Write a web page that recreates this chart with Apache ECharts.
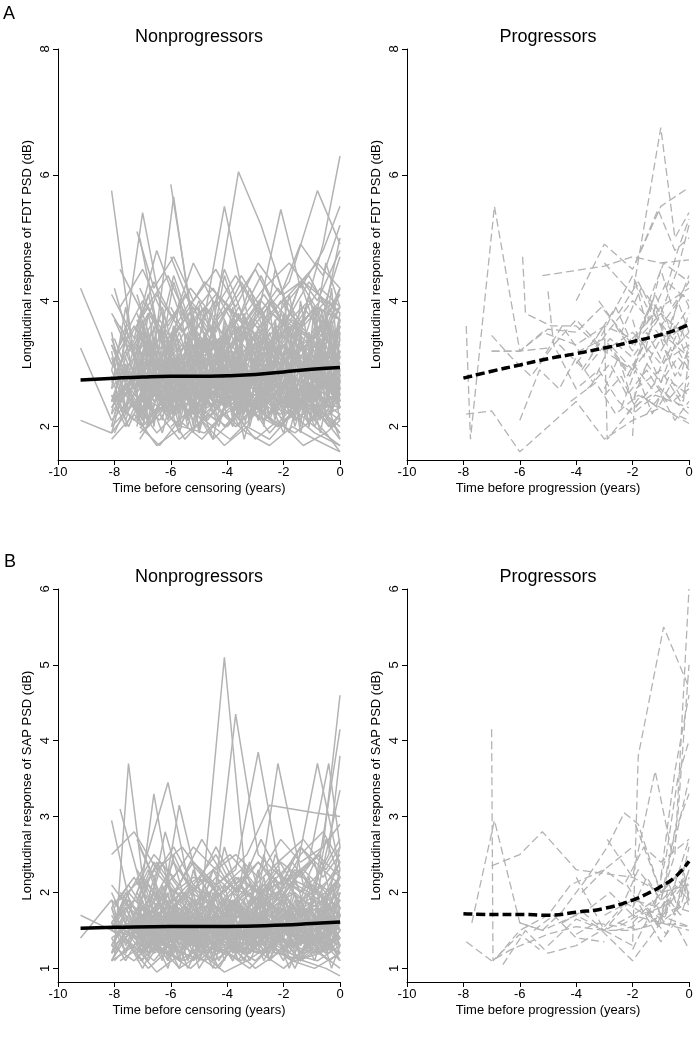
<!DOCTYPE html>
<html><head><meta charset="utf-8">
<script src="https://cdn.jsdelivr.net/npm/echarts@6/dist/echarts.min.js"></script>
<style>html,body{margin:0;padding:0;background:#fff}#c{width:699px;height:1048px}</style>
</head><body><div id="c"></div>
<script>
// ---- visit schedules (years before censoring) ----
const visitGrids = [
  [-9.2,-8.1,-7.1,-6.0,-5.1,-4.0,-3.0,-2.0,-1.0,0],
  [-8.1,-7.3,-6.5,-5.6,-4.8,-3.9,-3.0,-2.2,-1.3,-0.5,0],
  [-7.1,-6.4,-5.7,-4.9,-4.1,-3.3,-2.5,-1.7,-0.9,0],
  [-6.0,-5.2,-4.5,-3.6,-2.8,-2.0,-1.1,-0.4,0],
  [-7.8,-7.0,-6.1,-5.3,-4.4,-3.5,-2.7,-1.8,-0.8,0],
  [-8.0,-7.5,-6.8,-6.2,-5.5,-4.7,-4.0,-3.2,-2.4,-1.6,-0.7,0],
  [-7.2,-6.6,-5.9,-5.2,-4.4,-3.7,-2.9,-2.1,-1.4,-0.6,0],
  [-7.2,-6.8,-6.3,-5.9,-5.4,-5.0,-4.5,-4.1,-3.6,-3.2,-2.7,-2.3,-1.8,-1.4,-0.9,-0.5,0],
  [-8.1,-7.6,-7.0,-6.6,-6.1,-5.7,-5.2,-4.8,-4.3,-3.8,-3.4,-2.9,-2.5,-2.0,-1.6,-1.1,-0.7,-0.3,0]
];
// ---- FDT PSD, nonprogressors: [schedule, values...] (values end at time 0) ----
const fdtNonprog = [
  [0,3.25,2.1,2.6,2.4,2.9,2.5,2.7,2.3,2.8,2.6],
  [0,4.2,3.0,2.4,2.9,2.6,3.1,2.8,3.3,2.9,3.2],
  [0,2.1,1.9,2.5,2.2,2.7,2.4,2.2,2.6,2.3,2.5],
  [1,5.75,3.1,3.6,2.9,3.4,3.0,3.7,3.2,3.9,3.4,3.6],
  [1,2.3,2.8,2.2,2.6,2.1,2.5,2.3,2.0,2.4,2.2,1.9],
  [1,3.3,2.6,3.0,2.7,3.2,2.8,3.5,3.0,3.3,2.9,3.1],
  [1,2.0,2.4,1.9,2.3,2.1,1.8,2.2,2.0,2.3,1.9,2.1],
  [1,3.8,3.2,4.1,3.5,3.9,3.3,3.7,4.2,3.6,4.0,3.8],
  [1,2.6,3.1,2.5,2.9,2.4,2.8,2.6,3.0,2.5,2.7,2.9],
  [2,5.0,3.4,2.8,3.3,2.7,3.1,2.9,3.5,3.0,3.3],
  [2,2.2,2.7,2.3,2.5,2.0,2.4,2.2,2.6,2.1,2.3],
  [2,3.5,2.9,3.6,3.1,3.4,2.8,3.2,3.7,3.3,3.9],
  [2,1.8,2.3,2.0,2.6,2.2,2.4,1.9,2.3,2.0,1.7],
  [2,2.9,3.4,3.0,3.7,3.2,3.5,3.1,3.6,3.4,4.1],
  [2,2.5,2.1,2.6,2.3,2.8,2.4,2.7,2.2,2.6,2.4],
  [3,5.85,3.6,3.1,3.9,3.3,3.7,3.4,4.0,3.8],
  [3,2.4,2.9,2.5,2.8,2.3,2.7,2.4,2.9,2.6],
  [3,3.1,2.6,3.3,2.9,3.5,3.0,3.4,3.1,3.6],
  [3,2.0,2.3,1.8,2.2,2.5,2.1,2.4,2.0,2.2],
  [4,2.9,5.4,3.3,2.8,3.6,3.1,3.4,3.0,3.5,3.2],
  [4,2.3,2.0,2.5,2.2,2.7,2.3,2.1,2.5,2.2,2.6],
  [4,3.0,3.5,2.8,3.3,2.9,3.6,3.2,3.8,3.3,3.5],
  [4,2.6,2.2,2.9,2.5,2.3,2.8,2.4,2.7,2.3,2.0],
  [4,3.6,2.9,3.4,4.0,3.5,4.3,3.7,4.1,4.6,4.2],
  [5,2.2,2.6,2.1,2.5,2.8,2.3,2.6,2.2,2.5,2.1,2.4,2.3],
  [5,3.4,2.8,3.2,2.7,3.1,2.6,3.0,2.8,3.3,2.9,3.2,3.0],
  [5,2.8,3.3,2.6,3.0,2.5,2.9,2.4,2.8,2.6,3.1,2.7,2.9],
  [5,1.9,2.4,2.0,2.3,1.8,2.2,2.0,2.4,2.1,1.9,2.2,1.8],
  [5,4.2,3.4,3.9,3.2,3.7,3.3,3.9,3.5,4.0,3.6,4.2,3.9],
  [5,2.5,2.0,2.7,2.3,2.6,2.1,2.5,2.2,2.7,2.4,2.3,2.6],
  [6,4.1,3.2,5.65,3.5,3.0,3.6,3.2,3.5,3.1,3.7,3.3],
  [6,2.7,3.1,2.6,3.0,2.7,3.2,2.8,2.5,2.9,2.6,2.8],
  [6,2.1,2.5,2.2,2.6,2.3,2.0,2.4,2.2,2.6,2.3,2.1],
  [6,3.3,2.8,3.5,3.0,3.4,2.9,3.3,3.8,3.2,3.6,3.4],
  [6,2.4,2.9,2.3,2.7,2.5,3.0,2.6,2.9,2.4,2.8,2.5],
  [6,3.8,3.1,4.4,3.5,4.0,3.3,3.9,3.4,4.3,3.7,5.0],
  [0,2.4,2.9,2.5,3.0,2.7,2.5,2.9,2.6,2.8],
  [1,3.0,3.6,2.9,3.3,2.8,3.2,2.7,3.1,2.8,3.4,3.0],
  [1,2.5,2.1,2.7,2.4,2.2,2.6,2.3,2.7,2.4,2.1,2.5],
  [2,4.2,3.5,3.9,3.2,4.5,3.6,4.0,3.4,3.9,3.7],
  [2,2.6,3.0,2.4,2.9,2.6,3.1,2.7,3.0,2.8,3.2],
  [3,4.7,3.8,4.2,3.5,4.0,3.6,4.3,3.9,4.1],
  [3,2.7,3.2,2.8,3.4,2.9,3.3,3.0,2.7,3.1],
  [4,2.4,2.8,2.3,2.7,2.5,2.2,2.6,2.3,2.8,2.5],
  [4,3.3,4.0,3.4,3.8,3.2,3.6,4.1,3.5,3.9,3.7],
  [5,3.1,2.7,3.3,2.9,2.6,3.0,2.7,3.1,2.8,3.2,2.9,2.6],
  [6,2.9,2.4,2.8,2.3,2.7,2.4,2.8,2.5,2.3,2.7,2.4],
  [6,3.6,4.3,3.7,4.6,3.9,4.4,3.8,5.45,4.2,4.8,5.5],
  [5,2.4,3.0,2.6,3.2,2.8,3.4,2.9,3.3,2.7,3.0,2.8,3.1],
  [2,3.1,3.7,3.2,3.5,5.5,3.8,3.3,3.6,3.2,3.5],
  [3,3.9,3.2,3.6,6.05,5.2,4.1,4.4,3.8,4.2],
  [4,3.9,4.5,3.6,4.2,3.7,4.4,3.8,4.3,5.75,4.9],
  [6,3.2,3.7,3.0,3.5,3.1,3.8,3.4,4.0,3.6,4.9,6.3],
  [1,1.8,2.2,1.7,2.0,1.9,2.3,1.8,2.1,1.7,1.9,1.6],
  [2,2.0,1.7,2.1,1.8,2.2,1.9,1.7,2.0,1.8,1.6],
  [4,4.5,3.8,4.4,3.6,4.1,3.7,4.2,4.6,4.0,4.8],
  [6,2.5,2.2,2.7,2.4,2.1,2.5,2.3,2.0,2.4,2.2,1.9],
  [5,3.7,3.2,3.8,3.4,4.1,3.5,3.9,3.3,3.8,3.5,4.0,3.7],
  [1,4.1,3.4,4.8,3.7,4.3,3.9,4.5,3.8,4.3,4.0,4.7],
  [3,3.4,3.9,3.3,3.7,4.4,3.6,4.0,3.5,3.9],
  [2,1.9,2.2,1.8,2.1,1.7,2.0,1.8,2.2,1.9,1.7],
  [0,2.4,2.8,2.2,2.6,2.3,2.7,2.2,2.5,2.2],
  [6,5.1,4.2,4.7,4.0,4.5,3.9,4.6,4.1,4.9,4.4,5.2],
  [8,2.2,3.4,2.1,3.6,2.4,3.3,2.0,3.5,2.3,3.7,2.2,3.4,2.5,3.8,2.1,3.5,2.4,3.6,2.6],
  [8,3.5,2.3,3.7,2.0,3.4,2.2,3.8,2.4,3.3,2.1,3.6,2.3,3.9,2.2,3.5,2.0,3.7,2.5,3.4],
  [7,2.0,3.2,2.3,3.5,2.1,3.3,2.4,3.6,2.2,3.4,2.0,3.7,2.3,3.5,2.1,3.8,2.4],
  [7,3.3,2.1,3.6,2.2,3.4,1.9,3.7,2.3,3.5,2.1,3.8,2.2,3.6,2.0,3.9,2.3,3.7],
  [8,2.6,3.9,2.4,3.2,2.7,4.0,2.5,3.1,2.8,3.9,2.4,3.3,2.6,4.1,2.5,3.2,2.9,4.2,2.7],
  [8,1.9,2.7,2.0,2.9,2.2,2.6,1.9,2.8,2.1,2.7,1.8,2.6,2.2,2.9,2.0,2.7,1.9,2.8,2.1],
  [7,2.5,3.8,2.7,3.5,2.4,3.9,2.6,3.4,2.3,3.7,2.8,3.6,2.5,4.0,2.7,3.6,2.9],
  [7,3.0,2.0,2.8,2.2,3.1,1.9,2.7,2.3,3.2,2.0,2.9,2.1,3.0,1.9,2.8,2.2,2.7],
  [8,3.1,2.5,3.4,2.6,3.0,2.4,3.3,2.7,3.2,2.5,3.5,2.6,3.1,2.8,3.4,2.5,3.6,2.7,3.2],
  [7,2.3,2.9,2.1,3.1,2.4,2.8,2.2,3.0,2.5,2.9,2.3,3.2,2.4,2.8,2.2,3.1,2.5],
  [8,2.8,2.1,3.0,2.4,2.7,2.0,3.1,2.3,2.9,2.2,2.8,2.1,3.0,2.4,2.7,2.0,2.9,2.3,2.6],
  [7,3.7,3.0,3.9,3.2,3.6,2.9,4.0,3.1,3.8,3.3,3.7,3.0,4.1,3.2,3.9,3.4,4.2],
  [8,2.4,3.1,2.2,3.3,2.5,3.0,2.3,3.4,2.6,3.1,2.2,3.2,2.4,3.5,2.3,3.0,2.6,3.3,2.5],
  [7,2.1,2.5,1.9,2.6,2.2,2.4,1.8,2.7,2.0,2.5,2.1,2.3,1.9,2.6,2.0,2.4,1.8],
  [8,3.4,2.8,3.7,2.9,3.3,2.7,3.6,3.0,3.4,2.6,3.8,2.9,3.5,2.8,3.7,3.0,3.9,3.1,3.6],
  [7,2.7,3.4,2.5,3.6,2.8,3.3,2.6,3.5,2.9,3.2,2.5,3.6,2.7,3.4,2.6,3.7,2.8],
  [8,2.0,2.9,2.3,2.7,2.1,3.0,2.4,2.6,2.0,2.8,2.3,3.0,2.1,2.7,2.4,2.9,2.2,2.6,2.3],
  [7,3.2,2.6,3.5,2.4,3.3,2.7,3.6,2.5,3.4,2.8,3.2,2.6,3.5,2.9,3.3,2.7,3.8],
  [8,2.9,3.6,2.7,3.8,3.0,3.5,2.8,3.9,3.1,3.6,2.9,4.0,3.2,3.7,3.0,4.1,3.3,3.8,3.9],
  [7,2.2,2.8,2.4,3.0,2.1,2.7,2.5,2.9,2.2,3.1,2.4,2.8,2.3,3.0,2.5,2.7,2.3],
  [8,2.5,2.0,2.6,2.2,2.4,1.9,2.7,2.1,2.5,2.0,2.6,2.3,2.4,1.9,2.5,2.1,2.3,2.0,2.2],
  [7,3.5,4.1,3.3,4.3,3.6,4.0,3.4,4.4,3.7,4.2,3.5,4.5,3.8,4.3,3.6,4.6,3.9],
  [8,2.3,2.7,2.1,2.5,2.4,2.8,2.2,2.6,2.3,2.9,2.1,2.5,2.4,2.7,2.2,2.6,2.3,2.8,2.4],
  [7,2.9,2.3,3.1,2.5,2.8,2.2,3.0,2.6,2.9,2.4,3.2,2.5,2.8,2.3,3.1,2.6,3.0],
  [7,2.2,3.3,2.4,3.1,2.1,3.4,2.5,3.2,2.2,3.5,2.4,3.1,2.3,3.4,2.1,3.3,2.6],
  [8,3.2,2.2,3.4,2.5,3.1,2.1,3.5,2.3,3.3,2.2,3.6,2.4,3.2,2.1,3.4,2.5,3.3,2.2,3.5],
  [7,3.0,2.4,3.3,2.2,2.9,2.5,3.4,2.3,3.1,2.6,3.5,2.2,3.0,2.4,3.6,2.3,3.2],
  [8,2.4,3.0,2.2,3.2,2.6,2.9,2.3,3.3,2.5,3.0,2.2,3.4,2.6,2.9,2.3,3.2,2.5,3.5,2.8],
  [7,2.6,3.5,2.3,3.6,2.7,3.2,2.4,3.7,2.6,3.3,2.2,3.5,2.8,3.4,2.5,3.8,2.7],
  [8,2.9,2.3,3.1,2.1,2.8,2.4,3.0,2.2,3.2,2.5,2.9,2.1,3.1,2.3,2.8,2.4,3.3,2.2,2.9],
  [7,2.1,2.8,2.3,3.0,2.0,2.7,2.4,3.1,2.1,2.9,2.3,3.0,2.2,2.8,2.4,3.2,2.3],
  [8,3.3,2.7,3.5,2.6,3.2,2.8,3.6,2.5,3.4,2.9,3.5,2.7,3.3,2.6,3.7,2.8,3.4,2.9,3.6],
  [7,2.4,2.1,2.7,2.2,2.5,2.0,2.8,2.3,2.6,2.1,2.7,2.2,2.5,2.1,2.8,2.3,2.5],
  [8,2.7,3.2,2.5,3.4,2.8,3.1,2.6,3.5,2.7,3.2,2.4,3.6,2.8,3.3,2.5,3.4,2.9,3.7,3.1],
  [7,3.4,2.6,3.2,2.8,3.5,2.5,3.3,2.9,3.6,2.6,3.4,2.7,3.5,2.8,3.3,2.6,3.7],
  [8,2.2,2.6,2.0,2.8,2.3,2.5,2.1,2.7,2.4,2.6,2.0,2.9,2.2,2.7,2.4,2.5,2.1,2.8,2.3]
];
// ---- FDT PSD, progressors: [times], [values] ----
const fdtProg = [
  [[-7.9,-7.75,-6.9,-6.0,-5.2,-4.0,-3.0,-2.0,-1.0,0],[3.6,1.8,5.5,3.2,3.5,3.3,3.6,3.4,3.9,4.2]],
  [[-7.9,-7.0,-6.0,-5.0,-4.0,-3.0,-2.0,-1.0,0],[2.2,2.25,1.6,2.0,2.4,1.8,2.1,2.3,2.05]],
  [[-7.0,-6.0,-5.0,-4.0,-3.1,-2.0,-1.0,0],[3.2,3.2,3.55,3.5,3.9,3.3,3.8,3.4]],
  [[-7.0,-6.3,-5.6,-4.8,-4.0,-3.0,-2.0,-1.0,0],[3.45,3.1,2.8,3.3,3.7,3.2,2.9,3.5,3.1]],
  [[-5.9,-5.8,-4.9,-4.0,-3.0,-2.0,-1.0,0],[4.7,3.8,3.6,3.6,3.2,3.5,3.0,3.3]],
  [[-5.2,-3.0,-2.0,-1.0,0],[4.4,4.55,4.7,4.6,4.65]],
  [[-5.0,-4.8,-4.0,-3.2,-2.5,-2.0,-1.2,0],[4.15,3.3,2.6,2.9,2.4,2.2,2.5,2.3]],
  [[-6.0,-5.3,-4.6,-4.0,-3.4,-2.8,-2.0,-1.3,-0.6,0],[2.1,2.9,2.6,3.1,2.7,3.3,2.9,3.6,3.2,3.5]],
  [[-4.0,-3.0,-2.0,-1.0,0],[4.0,4.9,4.5,5.5,5.8]],
  [[-3.0,-2.0,-1.0,-0.5,0],[4.6,4.1,6.75,5.0,5.4]],
  [[-4.0,-3.0,-2.9,-2.0,-1.0,0],[3.0,3.6,1.8,2.3,2.6,2.2]],
  [[-3.8,-2.9,-2.0,-1.4,-0.8,0],[2.9,3.5,4.0,3.7,4.3,4.0]],
  [[-3.0,-2.4,-1.9,-1.2,-0.6,0],[2.5,2.8,2.3,2.7,2.4,2.6]],
  [[-4.6,-3.7,-2.8,-2.0,-1.1,-0.4,0],[3.3,2.9,3.4,3.1,3.7,3.3,3.8]],
  [[-2.0,-1.9,-1.0,-0.3,0],[1.85,2.6,2.9,2.4,2.7]],
  [[-3.5,-2.7,-2.0,-1.5,-0.9,0],[3.1,3.8,4.4,3.9,4.6,4.3]],
  [[-2.6,-2.0,-1.4,-0.7,0],[3.6,3.2,3.9,3.4,3.7]],
  [[-2.2,-1.6,-1.0,-0.4,0],[2.8,3.3,2.7,3.1,2.9]],
  [[-1.8,-1.2,-0.7,0],[3.4,4.1,3.6,4.4]],
  [[-3.2,-2.4,-1.7,-1.0,-0.4,0],[4.0,3.5,4.2,3.8,4.5,5.2]],
  [[-2.0,-1.3,-0.8,-0.3,0],[3.0,2.6,3.2,2.8,3.3]],
  [[-1.5,-1.0,-0.5,0],[2.2,2.5,2.1,2.4]],
  [[-4.2,-3.3,-2.6,-1.8,-1.0,0],[2.4,2.7,2.2,2.5,2.3,2.1]],
  [[-2.9,-2.1,-1.5,-0.9,-0.3,0],[3.3,2.8,3.5,3.0,3.6,3.2]],
  [[-1.9,-1.1,-0.5,0],[4.6,5.45,4.8,5.0]],
  [[-2.5,-1.8,-1.0,-0.2,0],[3.8,4.3,3.6,4.1,3.9]],
  [[-3.6,-2.8,-2.2,-1.5,-0.8,0],[2.6,3.0,2.5,2.9,2.4,2.8]],
  [[-1.0,-0.5,0],[3.2,3.6,3.0]],
  [[-0.8,-0.4,0],[4.2,4.8,5.3]],
  [[-2.2,-1.7,-1.1,-0.6,0],[2.2,2.5,2.3,2.7,2.5]],
  [[-7.0,-6.0,-5.0],[3.2,3.2,3.25]],
  [[-5.3,-4.5,-3.9,-3.0,-2.2],[3.0,3.6,3.2,3.4,2.9]],
  [[-3.0,-2.5,-2.0,-1.5,-1.0,-0.5,0],[2.6,3.1,2.4,3.0,2.7,3.3,2.9]],
  [[-2.0,-1.6,-1.2,-0.8,-0.4,0],[3.7,3.1,3.9,3.3,4.0,3.5]],
  [[-2.4,-1.9,-1.3,-0.7,-0.2,0],[2.3,2.9,2.2,2.8,2.4,3.1]],
  [[-1.9,-1.5,-1.0,-0.6,0],[4.3,3.6,4.5,3.9,4.3]],
  [[-3.3,-2.6,-2.0,-1.3,-0.6,0],[3.4,3.9,3.3,4.0,3.5,3.9]],
  [[-1.6,-1.0,-0.5,0],[2.9,3.4,2.8,3.2]]
];
// ---- SAP PSD, nonprogressors ----
const sapNonprog = [
  [0,1.7,1.5,1.4,1.6,1.3,1.5,1.4,1.6,1.5,1.7],
  [0,1.4,1.9,1.5,1.3,1.6,1.4,1.7,1.5,1.3,1.6],
  [1,2.95,1.6,1.4,1.7,1.5,1.8,1.6,1.4,1.7,1.5,1.6],
  [1,1.3,1.1,1.4,1.2,1.5,1.3,1.1,1.4,1.2,1.3,1.1],
  [1,1.8,2.2,1.7,2.0,1.8,2.1,1.9,2.3,1.8,2.0,2.2],
  [1,1.5,1.3,1.6,1.4,1.2,1.5,1.3,1.6,1.4,1.2,1.5],
  [1,2.1,1.7,2.4,1.9,2.2,1.8,2.1,1.9,2.3,2.0,2.4],
  [5,1.2,3.7,1.6,1.3,1.5,1.2,1.4,1.3,1.6,1.4,1.2,1.5],
  [5,1.6,1.9,1.5,1.8,1.4,1.7,1.5,1.9,1.6,1.8,1.5,1.7],
  [5,1.1,1.3,1.0,1.2,1.1,1.4,1.2,1.0,1.3,1.1,1.2,1.0],
  [5,1.9,1.5,2.1,1.7,2.0,1.6,1.9,1.7,2.2,1.8,2.1,1.9],
  [5,1.4,1.6,1.3,1.7,1.5,1.3,1.6,1.4,1.7,1.5,1.4,1.6],
  [2,1.5,1.8,1.4,1.7,1.3,1.6,1.4,1.8,1.5,1.7],
  [2,1.2,1.4,1.1,1.3,1.2,1.5,1.3,1.1,1.4,1.2],
  [2,2.6,2.0,2.3,1.9,2.2,1.8,2.1,2.4,2.0,2.3],
  [2,1.7,1.5,1.9,1.6,1.4,1.7,1.5,1.8,1.6,1.9],
  [2,1.3,1.6,1.2,1.5,1.4,1.2,1.5,1.3,1.6,1.4],
  [4,3.1,2.0,1.7,2.1,1.8,2.2,1.9,1.7,2.0,1.8],
  [4,1.4,1.2,1.5,1.3,1.6,1.4,1.2,1.5,1.3,1.4],
  [4,1.8,2.3,3.45,2.0,1.8,2.1,1.7,2.0,1.8,2.2],
  [4,1.6,1.4,1.7,1.5,1.3,1.6,1.4,1.7,1.5,1.3],
  [4,1.1,1.3,1.2,1.0,1.3,1.1,1.4,1.2,1.1,1.3],
  [6,2.7,2.2,2.6,2.1,2.5,2.0,2.4,2.1,2.6,2.2,2.5],
  [6,1.5,1.8,1.4,1.7,1.5,1.9,1.6,1.8,1.5,1.7,1.6],
  [6,1.3,1.1,1.4,1.2,1.0,1.3,1.2,1.4,1.1,1.3,1.2],
  [6,2.0,1.6,1.9,1.7,2.1,1.8,1.6,2.0,1.7,1.9,2.1],
  [6,1.6,3.3,1.8,1.5,1.7,1.4,1.6,1.8,1.5,1.7,1.4],
  [3,1.4,1.7,1.3,1.6,1.4,1.8,1.5,1.3,1.6],
  [6,1.9,2.4,2.0,2.2,2.1,2.3,3.85,2.2,2.0,2.3,2.1],
  [3,1.2,1.4,1.1,1.3,1.2,1.0,1.3,1.1,1.2],
  [3,1.7,1.5,1.8,1.6,1.9,1.7,2.0,1.8,2.1],
  [2,1.8,1.6,3.15,1.9,5.1,2.0,1.8,2.1,1.9,1.7],
  [6,1.9,2.3,2.0,2.4,2.1,4.35,2.5,2.2,2.6,2.3,2.7],
  [1,1.6,1.9,1.7,2.0,1.6,1.9,1.7,3.7,2.1,1.9,2.2],
  [4,2.0,1.7,2.1,1.8,2.2,1.9,2.1,1.8,3.7,2.3],
  [6,1.7,2.0,1.8,2.1,1.9,2.2,2.0,2.4,2.2,2.6,4.6],
  [5,1.5,1.8,1.6,1.9,1.5,1.8,1.6,2.0,1.7,2.2,2.5,4.15],
  [2,2.0,2.4,2.1,2.7,2.2,2.5,3.15,3.1,3.05,3.0],
  [3,1.6,1.9,1.7,2.1,1.8,2.2,2.0,2.5,3.8],
  [4,1.7,1.5,1.8,1.6,1.9,1.7,2.0,2.2,2.0,3.35],
  [1,1.1,1.3,0.95,1.2,1.1,1.3,1.0,1.2,1.1,1.0,0.9],
  [5,1.3,1.5,1.2,1.4,1.3,1.6,1.4,1.2,1.5,1.3,1.4,1.2],
  [6,1.2,1.4,1.3,1.1,1.4,1.2,1.5,1.3,1.1,1.4,1.3],
  [2,1.6,1.3,1.5,1.2,1.6,1.4,1.7,1.5,1.3,1.6],
  [4,1.5,1.7,1.4,1.8,1.5,1.7,1.4,1.6,1.8,1.5],
  [1,1.4,1.6,1.3,1.7,1.5,1.4,1.7,1.5,1.8,1.6,1.4],
  [6,2.3,1.9,2.4,2.0,2.6,2.1,2.4,2.0,2.5,2.8,2.4],
  [3,2.2,1.8,2.3,2.0,2.7,2.1,2.4,3.7,2.6],
  [5,1.8,2.1,1.7,2.0,1.6,1.9,1.7,2.1,1.8,2.0,1.7,1.9],
  [2,1.4,1.2,1.5,1.3,1.4,1.2,1.5,1.3,1.2,1.4],
  [0,1.6,1.4,1.7,1.5,1.8,1.6,1.5,1.7,1.4],
  [1,2.5,2.8,2.3,2.6,2.2,2.5,2.1,2.4,2.7,2.3,2.6],
  [3,1.3,1.5,1.2,1.4,1.6,1.3,1.5,1.2,1.4],
  [4,1.9,2.2,1.8,2.4,2.0,2.3,1.9,2.1,2.5,2.2],
  [6,1.4,1.6,1.5,1.3,1.6,1.4,1.7,1.5,1.8,1.6,1.9],
  [2,1.1,1.3,1.0,1.2,0.95,1.1,1.3,1.1,1.0,1.2],
  [5,1.6,2.0,1.7,2.8,1.9,2.2,1.8,2.1,1.9,2.3,2.0,2.4],
  [6,2.1,2.5,2.2,2.6,2.3,2.5,2.2,2.7,2.4,2.6,2.9],
  [8,1.2,1.8,1.3,1.9,1.1,1.7,1.4,2.0,1.2,1.8,1.3,1.9,1.1,1.7,1.4,2.0,1.3,1.8,1.5],
  [8,1.8,1.2,1.9,1.3,1.7,1.1,2.0,1.4,1.8,1.2,1.9,1.3,2.1,1.2,1.8,1.4,2.0,1.3,1.7],
  [7,1.3,1.7,1.2,1.8,1.4,1.6,1.1,1.9,1.3,1.7,1.2,1.8,1.4,1.6,1.3,1.9,1.5],
  [7,1.9,1.4,2.1,1.5,1.8,1.3,2.0,1.6,1.9,1.4,2.2,1.5,1.9,1.3,2.1,1.6,2.3],
  [8,1.5,2.0,1.6,2.2,1.5,1.9,1.7,2.1,1.5,2.0,1.6,2.3,1.5,1.9,1.7,2.2,1.6,2.1,1.8],
  [8,1.1,1.4,1.0,1.3,1.2,1.5,1.1,1.4,1.0,1.3,1.2,1.5,1.1,1.3,1.0,1.4,1.2,1.3,1.1],
  [7,1.6,1.3,1.7,1.4,1.8,1.2,1.6,1.5,1.9,1.3,1.7,1.4,1.8,1.3,1.6,1.5,1.9],
  [7,1.4,1.9,1.5,2.0,1.3,1.8,1.6,2.1,1.4,1.9,1.5,2.2,1.6,1.8,1.4,2.0,1.7],
  [8,2.0,1.6,2.2,1.7,2.1,1.5,2.3,1.8,2.0,1.6,2.4,1.7,2.1,1.8,2.2,1.6,2.5,1.9,2.2],
  [7,1.2,1.5,1.1,1.6,1.3,1.4,1.0,1.5,1.2,1.6,1.1,1.4,1.3,1.5,1.1,1.6,1.2],
  [8,1.7,1.4,1.8,1.3,1.6,1.5,1.9,1.4,1.7,1.3,1.8,1.5,1.6,1.4,1.9,1.3,1.7,1.5,1.8],
  [7,1.5,1.7,1.3,1.8,1.6,1.4,1.9,1.5,1.7,1.3,1.8,1.6,1.5,1.9,1.4,1.7,1.6],
  [8,1.3,1.6,1.4,1.7,1.2,1.5,1.3,1.8,1.4,1.6,1.2,1.7,1.5,1.6,1.3,1.8,1.4,1.7,1.5],
  [7,2.2,1.8,2.4,1.9,2.1,1.7,2.3,2.0,2.2,1.8,2.5,1.9,2.3,2.0,2.4,1.8,2.6],
  [8,1.4,1.1,1.5,1.2,1.3,1.0,1.6,1.2,1.4,1.1,1.5,1.3,1.4,1.1,1.6,1.2,1.5,1.0,1.3],
  [7,1.8,1.5,2.0,1.6,1.9,1.4,2.1,1.7,1.9,1.5,2.0,1.6,2.2,1.7,1.9,1.5,2.1],
  [8,1.6,1.9,1.5,2.0,1.7,1.8,1.5,2.1,1.6,1.9,1.7,2.0,1.5,1.8,1.6,2.1,1.7,1.9,2.0],
  [7,1.1,1.4,1.2,1.5,1.0,1.3,1.2,1.6,1.1,1.4,1.3,1.5,1.0,1.4,1.2,1.5,1.1],
  [8,1.9,1.3,1.8,1.4,2.0,1.3,1.7,1.5,2.1,1.4,1.8,1.3,1.9,1.5,2.0,1.4,1.8,1.6,2.0],
  [7,1.4,1.6,1.2,1.7,1.5,1.3,1.8,1.4,1.6,1.2,1.7,1.5,1.3,1.8,1.4,1.6,1.5],
  [8,1.2,1.5,1.3,1.4,1.1,1.6,1.2,1.5,1.4,1.3,1.1,1.5,1.2,1.6,1.3,1.4,1.2,1.5,1.3],
  [7,2.0,2.3,1.8,2.5,2.1,2.2,1.9,2.6,2.0,2.4,1.8,2.5,2.2,2.3,2.0,2.7,2.2],
  [8,1.5,1.8,1.4,1.7,1.6,1.9,1.3,1.8,1.5,1.7,1.4,1.9,1.6,1.8,1.4,1.7,1.5,1.9,1.6],
  [7,1.7,1.2,1.6,1.3,1.8,1.1,1.7,1.4,1.6,1.2,1.8,1.3,1.7,1.1,1.6,1.4,1.8],
  [7,1.2,1.6,1.3,1.7,1.1,1.5,1.4,1.8,1.2,1.6,1.3,1.7,1.2,1.5,1.4,1.8,1.3],
  [8,1.6,1.2,1.7,1.3,1.5,1.1,1.8,1.4,1.6,1.2,1.7,1.3,1.9,1.2,1.6,1.4,1.8,1.3,1.7],
  [7,1.5,1.2,1.6,1.3,1.7,1.1,1.5,1.4,1.8,1.2,1.6,1.3,1.7,1.2,1.5,1.4,1.8],
  [8,1.3,1.7,1.2,1.6,1.4,1.8,1.3,1.5,1.2,1.7,1.4,1.6,1.3,1.8,1.2,1.6,1.5,1.9,1.6],
  [7,1.7,1.4,1.8,1.5,1.6,1.3,1.9,1.4,1.7,1.5,1.8,1.3,1.7,1.5,1.9,1.4,2.0],
  [8,1.1,1.5,1.2,1.4,1.0,1.6,1.3,1.5,1.1,1.4,1.2,1.6,1.1,1.5,1.3,1.4,1.2,1.6,1.4],
  [7,1.4,1.8,1.3,1.6,1.5,1.9,1.4,1.7,1.3,1.8,1.5,1.6,1.4,1.9,1.3,1.8,1.7],
  [8,1.8,1.4,1.6,1.2,1.9,1.5,1.7,1.3,1.8,1.4,1.6,1.2,1.9,1.5,1.7,1.3,2.0,1.5,1.8],
  [7,1.3,1.1,1.4,1.2,1.5,1.0,1.3,1.2,1.4,1.1,1.5,1.2,1.3,1.1,1.4,1.2,1.5],
  [8,1.5,1.9,1.4,1.8,1.6,2.0,1.5,1.7,1.4,1.9,1.6,1.8,1.5,2.0,1.4,1.8,1.6,2.1,1.7],
  [7,1.6,1.3,1.5,1.2,1.7,1.4,1.6,1.1,1.8,1.3,1.5,1.4,1.7,1.2,1.6,1.3,1.7],
  [8,1.2,1.4,1.1,1.5,1.3,1.2,1.6,1.2,1.4,1.1,1.5,1.3,1.2,1.6,1.3,1.4,1.2,1.5,1.3]
];
// ---- SAP PSD, progressors ----
const sapProg = [
  [[-7.9,-7.0,-6.3,-5.0,-4.0,-3.0,-2.0,-1.0,0],[1.35,1.1,1.25,1.45,1.55,1.5,1.5,1.6,1.55]],
  [[-7.0,-6.95,-6.0,-5.3],[4.15,1.1,1.45,1.25]],
  [[-7.7,-6.9,-6.0,-5.2,-4.0,-3.0],[1.6,2.95,1.6,1.5,1.7,1.5]],
  [[-7.0,-6.0,-5.2,-4.0,-3.0,-2.0,-1.0,0],[2.35,2.5,2.8,2.3,2.25,2.2,2.0,2.1]],
  [[-6.6,-5.8,-5.0,-4.0,-3.1,-2.0,-1.0,0],[1.05,1.5,1.2,1.3,1.5,1.1,1.6,1.9]],
  [[-6.8,-6.0,-5.0,-4.2,-3.0,-2.0],[1.15,1.5,1.7,2.1,2.3,2.6]],
  [[-6.0,-5.2,-4.5,-3.6,-2.9,-2.3,-1.8,-1.0,0],[1.6,1.5,1.75,2.2,2.6,3.05,2.9,2.0,2.4]],
  [[-4.0,-3.0,-2.0,-1.8,-0.9,0],[2.2,1.5,1.3,3.8,5.5,4.7]],
  [[-2.0,-1.5,-1.0,-0.5,0],[1.8,2.2,1.9,2.5,6.0]],
  [[-3.0,-2.4,-1.8,-1.0,-0.4,0],[1.55,1.8,2.3,1.9,3.0,5.0]],
  [[-1.0,-0.5,0],[2.2,3.6,4.6]],
  [[-2.9,-2.0,-1.2,-0.6,0],[2.7,2.2,3.6,2.5,3.5]],
  [[-4.0,-3.3,-2.5,-1.8,-1.0,-0.3,0],[1.45,1.6,1.55,1.7,1.8,2.1,2.6]],
  [[-3.5,-2.8,-2.0,-1.2,-0.5,0],[1.8,2.0,1.7,1.9,2.2,2.0]],
  [[-2.5,-1.8,-1.0,-0.4,0],[1.6,1.5,1.7,1.8,1.75]],
  [[-2.0,-1.4,-0.8,0],[1.25,1.7,1.45,2.3]],
  [[-1.8,-1.1,-0.6,0],[1.9,1.6,2.0,2.7]],
  [[-5.0,-4.0,-3.0,-2.0,-1.0,0],[1.3,1.65,1.5,1.7,1.6,1.5]],
  [[-3.0,-2.0,-1.0,-0.5,0],[1.7,1.9,1.8,2.1,1.9]],
  [[-1.5,-1.0,-0.6,-0.2,0],[1.8,1.65,1.9,2.1,1.8]],
  [[-2.2,-1.7,-1.0,-0.5,0],[2.1,1.8,1.35,1.6,1.25]],
  [[-4.5,-3.8,-3.0,-2.2,-1.5,-0.7,0],[1.6,1.75,1.5,1.85,1.7,2.0,2.2]],
  [[-1.2,-0.8,-0.4,0],[1.85,2.5,3.5,4.0]],
  [[-0.9,-0.5,0],[2.0,2.8,3.3]],
  [[-3.8,-3.0,-2.3,-1.6,-1.0,0],[2.0,2.3,2.1,2.6,2.4,2.7]],
  [[-1.9,-1.0,-0.2,0],[2.9,2.0,2.3,1.9]],
  [[-2.6,-2.0,-1.3,-0.7,0],[1.5,1.55,1.75,1.65,1.55]],
  [[-5.5,-4.8,-4.0,-3.0],[1.5,1.7,1.4,1.35]],
  [[-1.5,-1.2,-0.9,-0.6,-0.3,0],[1.7,1.9,1.6,2.0,1.8,2.2]],
  [[-1.3,-1.0,-0.7,-0.4,0],[1.9,1.7,2.1,1.8,2.3]],
  [[-2.0,-1.5,-1.1,-0.7,-0.3,0],[1.6,1.8,1.55,1.9,1.7,2.0]],
  [[-1.1,-0.8,-0.5,-0.2,0],[1.6,1.9,1.7,2.2,1.9]]
];
// ---- fitted mean curves ----
const fdtNonprogMeanT = [-9.2,-8,-7,-6,-5,-4,-3,-2,-1,0];
const fdtNonprogMeanV = [2.74,2.77,2.79,2.80,2.80,2.81,2.83,2.87,2.91,2.94];
const fdtProgMeanT = [-8,-7,-6,-5,-4,-3,-2,-1,-0.5,0];
const fdtProgMeanV = [2.77,2.88,2.98,3.08,3.16,3.25,3.35,3.46,3.53,3.62];
const sapNonprogMeanT = [-9.2,-8,-6,-4,-2,-1,0];
const sapNonprogMeanV = [1.53,1.54,1.55,1.55,1.57,1.59,1.61];
const sapProgMeanT = [-8,-7,-6,-5,-4,-3,-2,-1.5,-1,-0.5,0];
const sapProgMeanV = [1.72,1.71,1.71,1.70,1.74,1.79,1.90,1.98,2.08,2.2,2.41];
// ---- ticks and texts ----
const xTicks = [-10,-8,-6,-4,-2,0];
const fdtTicks = [2,4,6,8];
const sapTicks = [1,2,3,4,5,6];
const panelTitles = ['Nonprogressors','Progressors','Nonprogressors','Progressors'];
const xNames = ['Time before censoring (years)','Time before progression (years)','Time before censoring (years)','Time before progression (years)'];
const yNames = ['Longitudinal response of FDT PSD (dB)','Longitudinal response of FDT PSD (dB)','Longitudinal response of SAP PSD (dB)','Longitudinal response of SAP PSD (dB)'];

const FONT = '"Liberation Sans", Arial, Helvetica, sans-serif';
const GRAY = '#b3b3b3';
const grids = [
  {left:58, top:49, width:282, height:411},
  {left:407, top:49, width:282, height:411},
  {left:58, top:589, width:282, height:393},
  {left:407, top:589, width:282, height:393}
];
const yRanges = [[1.47,8,fdtTicks],[1.47,8,fdtTicks],[0.82,6,sapTicks],[0.82,6,sapTicks]];

const zip = (t, v) => t.map((x, i) => [x, v[i]]);
const series = [];
function addNonprog(list, gi) {
  list.forEach(s => {
    const vals = s.slice(1);
    const g = visitGrids[s[0]];
    const t = g.slice(g.length - vals.length);
    series.push({type:'line', xAxisIndex:gi, yAxisIndex:gi, data:zip(t, vals), showSymbol:false, silent:true,
      lineStyle:{color:GRAY, width:1.5}, z:2});
  });
}
function addProg(list, gi) {
  list.forEach(s => {
    series.push({type:'line', xAxisIndex:gi, yAxisIndex:gi, data:zip(s[0], s[1]), showSymbol:false, silent:true,
      lineStyle:{color:GRAY, width:1.3, type:[8,4]}, z:2});
  });
}
function addMean(t, v, gi, dashed) {
  series.push({type:'line', xAxisIndex:gi, yAxisIndex:gi, data:zip(t, v), showSymbol:false, silent:true, smooth:true,
    lineStyle:{color:'#000', width:3.5, type: dashed ? [9,4] : 'solid', cap:'butt'}, z:5});
}
addNonprog(fdtNonprog, 0);
addProg(fdtProg, 1);
addNonprog(sapNonprog, 2);
addProg(sapProg, 3);
addMean(fdtNonprogMeanT, fdtNonprogMeanV, 0, false);
addMean(fdtProgMeanT, fdtProgMeanV, 1, true);
addMean(sapNonprogMeanT, sapNonprogMeanV, 2, false);
addMean(sapProgMeanT, sapProgMeanV, 3, true);

const axisLineStyle = {color:'#000', width:1};
const xAxis = grids.map((g, i) => ({
  type:'value', gridIndex:i, min:-10, max:0, interval:2,
  name:xNames[i], nameLocation:'middle', nameGap:22,
  nameTextStyle:{color:'#000', fontSize:13, fontFamily:FONT},
  axisLine:{show:true, onZero:false, lineStyle:axisLineStyle},
  axisTick:{show:true, length:5, lineStyle:axisLineStyle, customValues:xTicks},
  axisLabel:{color:'#000', fontSize:13, margin:6, fontFamily:FONT, customValues:xTicks},
  splitLine:{show:false}
}));
const yAxis = grids.map((g, i) => ({
  type:'value', gridIndex:i, min:yRanges[i][0], max:yRanges[i][1],
  name:yNames[i], nameLocation:'middle', nameGap:24, nameRotate:90,
  nameTextStyle:{color:'#000', fontSize:13, fontFamily:FONT},
  axisLine:{show:true, onZero:false, lineStyle:axisLineStyle},
  axisTick:{show:true, length:5, lineStyle:axisLineStyle, customValues:yRanges[i][2]},
  axisLabel:{color:'#000', fontSize:13, margin:6, rotate:90, fontFamily:FONT, customValues:yRanges[i][2]},
  splitLine:{show:false}
}));
const graphic = [
  {type:'text', left:3, top:5, style:{text:'A', font:'18px ' + FONT, fill:'#000'}},
  {type:'text', left:4, top:553, style:{text:'B', font:'18px ' + FONT, fill:'#000'}}
];
grids.forEach((g, i) => {
  graphic.push({type:'text', x:g.left + g.width/2, y:g.top - 12,
    style:{text:panelTitles[i], font:'18px ' + FONT, fill:'#000', align:'center', verticalAlign:'middle'}});
});

const chart = echarts.init(document.getElementById('c'), null, {renderer:'canvas'});
chart.setOption({animation:false, backgroundColor:'#fff', grid:grids, xAxis, yAxis, series, graphic});
</script></body></html>
